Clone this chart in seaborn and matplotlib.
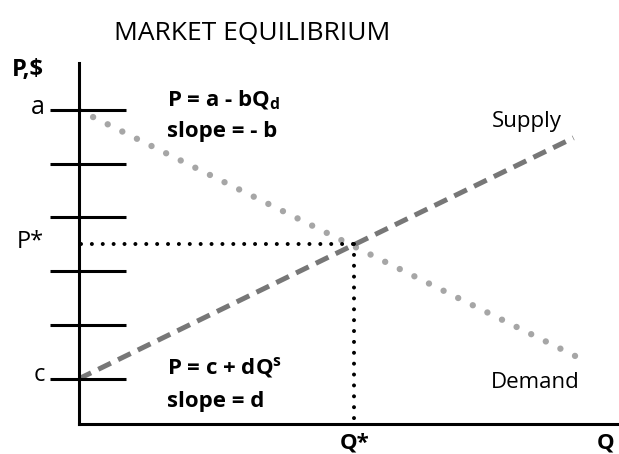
import matplotlib
matplotlib.use("Agg")
import matplotlib.pyplot as plt
import seaborn as sns
import pandas as pd

# Curve end points (Q, P)
demand_q = [0.0, 10.1]
demand_p = [6.0, 1.35]
supply_q = [0.0, 9.9]
supply_p = [1.0, 5.48]

# Equilibrium
q_star = 5.5
p_star = 3.5

# Price axis tick marks
tick_levels = [1, 2, 3, 4, 5, 6]

sns.set_theme(style="white")
plt.rcParams["font.family"] = ["Open Sans", "DejaVu Sans"]
plt.rcParams["text.color"] = "black"
plt.rcParams["mathtext.fontset"] = "custom"
plt.rcParams["mathtext.rm"] = "Open Sans"
plt.rcParams["mathtext.bf"] = "Open Sans:bold"

W, H = 619, 454
fig = plt.figure(figsize=(W / 100, H / 100), dpi=100)
ax = fig.add_axes([78.5 / W, 30 / H, (W - 78.5) / W, (424 - 63) / H])
ax.set_xlim(0, 10.81)
ax.set_ylim(0.163, 6.87)

demand = pd.DataFrame({"Q": demand_q, "P": demand_p})
supply = pd.DataFrame({"Q": supply_q, "P": supply_p})

sns.lineplot(data=demand, x="Q", y="P", ax=ax, color="#a6a6a6", lw=4.6,
             linestyle=(0, (0.001, 2.55)), dash_capstyle="round")
sns.lineplot(data=supply, x="Q", y="P", ax=ax, color="#777777", lw=3.6,
             linestyle=(0, (2.8, 1.6)), solid_capstyle="butt")

# equilibrium guides
ax.plot([0.05, q_star], [p_star, p_star], color="black", lw=2.9,
        linestyle=(0, (0.001, 2.7)), dash_capstyle="round")
ax.plot([q_star, q_star], [p_star, 0.163], color="black", lw=2.9,
        linestyle=(0, (0.001, 2.7)), dash_capstyle="round")

# tick marks across the price axis
ax.hlines(tick_levels, -0.57, 0.95, color="black", lw=2.2, clip_on=False)

for side in ["top", "right"]:
    ax.spines[side].set_visible(False)
for side in ["left", "bottom"]:
    ax.spines[side].set_color("black")
    ax.spines[side].set_linewidth(2.2)
ax.set_xticks([])
ax.set_yticks([])
ax.set_xlabel("")
ax.set_ylabel("")


def px(x, y):
    return x / W, 1 - y / H


fig.text(*px(252, 33), "MARKET EQUILIBRIUM", fontsize=19, ha="center", va="center")
fig.text(*px(28, 70), "P,$", fontsize=17, fontweight="bold", ha="center", va="center")
fig.text(*px(38, 107), "a", fontsize=18, ha="center", va="center")
fig.text(*px(30, 242), "P*", fontsize=17, ha="center", va="center")
fig.text(*px(39, 375), "c", fontsize=17, ha="center", va="center")

fig.text(*px(167, 100), r"P = a - bQ$_{\mathbf{d}}$", fontsize=16,
         fontweight="bold", ha="left", va="center")
fig.text(*px(167, 131), "slope = - b", fontsize=16, fontweight="bold",
         ha="left", va="center")
fig.text(*px(167, 367), r"P = c + dQ$^{\mathbf{s}}$", fontsize=16,
         fontweight="bold", ha="left", va="center")
fig.text(*px(167, 402), "slope = d", fontsize=16, fontweight="bold",
         ha="left", va="center")

fig.text(*px(492, 121), "Supply", fontsize=16, ha="left", va="center")
fig.text(*px(491, 382), "Demand", fontsize=16, ha="left", va="center")

fig.text(*px(355, 443), "Q*", fontsize=16, fontweight="bold", ha="center", va="center")
fig.text(*px(606, 443), "Q", fontsize=16, fontweight="bold", ha="center", va="center")

fig.savefig("out.png", dpi=100)
